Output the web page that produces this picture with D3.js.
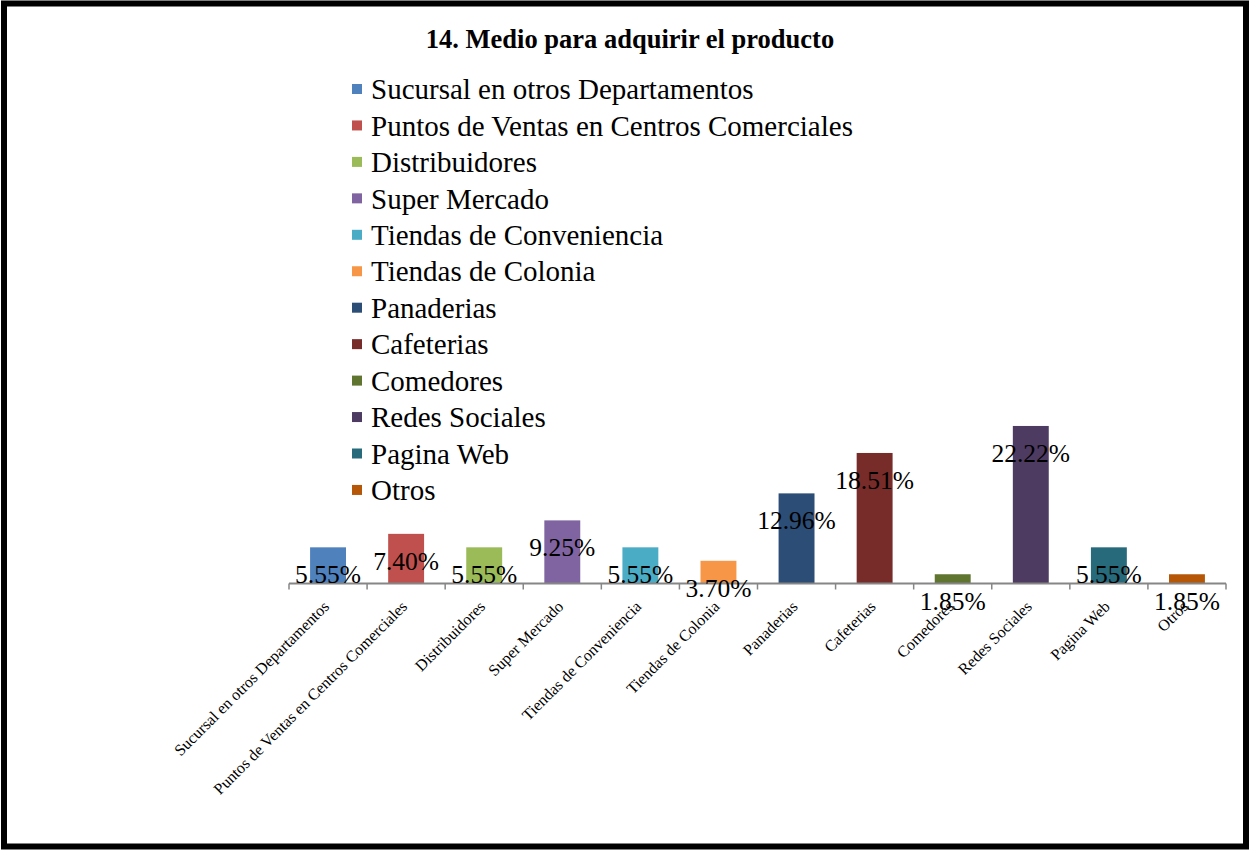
<!DOCTYPE html>
<html><head><meta charset="utf-8">
<script src="https://cdn.jsdelivr.net/npm/d3@7"></script>
<style>body{margin:0;background:#fff;} svg{display:block;font-family:"Liberation Serif","Times New Roman",serif;}</style>
</head><body>
<svg id="chart" width="1249" height="850"></svg>
<script>
const title = "14. Medio para adquirir el producto";
const categories = ["Sucursal en otros Departamentos","Puntos de Ventas en Centros Comerciales","Distribuidores","Super Mercado","Tiendas de Conveniencia","Tiendas de Colonia","Panaderias","Cafeterias","Comedores","Redes Sociales","Pagina Web","Otros"];
const values = [5.55,7.40,5.55,9.25,5.55,3.70,12.96,18.51,1.85,22.22,5.55,1.85];
const labels = ["5.55%","7.40%","5.55%","9.25%","5.55%","3.70%","12.96%","18.51%","1.85%","22.22%","5.55%","1.85%"];
const colors = ["#4F81BD","#C0504D","#9BBB59","#8064A2","#4BACC6","#F79646","#2C4D75","#772C2A","#5F7530","#4D3B62","#276A7C","#B65708"];

const svg = d3.select("#chart");
svg.append("rect").attr("x",4).attr("y",3.5).attr("width",1242).attr("height",843)
  .attr("fill","#fff").attr("stroke","#000").attr("stroke-width",6);

svg.append("text").attr("x",630).attr("y",48).attr("text-anchor","middle")
  .attr("font-weight","bold").attr("font-size",26.5).text(title);

const x = d3.scaleBand().domain(categories).range([289,1226]).paddingInner(0.54).paddingOuter(0.27);
const y = d3.scaleLinear().domain([0.58,25]).range([583.5,583.5-24.42*7.28]);
const base = y.range()[0];

// legend
const leg = svg.append("g");
categories.forEach((c,i)=>{
  const yy = 89 + i*36.45;
  leg.append("rect").attr("x",352).attr("y",yy-5).attr("width",10).attr("height",10).attr("fill",colors[i]);
  leg.append("text").attr("x",371).attr("y",yy).attr("dy","0.35em").attr("font-size",29).text(c);
});

// bars
svg.append("g").selectAll("rect").data(values).join("rect")
  .attr("x",(d,i)=>x(categories[i])).attr("width",x.bandwidth())
  .attr("y",d=>y(d)).attr("height",d=>base-y(d))
  .attr("fill",(d,i)=>colors[i]);

// axis
const xAxis = d3.axisBottom(x).tickSize(0).tickFormat("");
const ag = svg.append("g").attr("transform",`translate(0,${base})`).call(xAxis);
ag.select(".domain").attr("stroke","#868686").attr("stroke-width",2).attr("d","M289,0H1226");
const edges = d3.range(categories.length+1).map(i=>289 + i*(1226-289)/categories.length);
ag.selectAll(".tk").data(edges).join("line").attr("class","tk")
  .attr("x1",d=>d).attr("x2",d=>d).attr("y1",0).attr("y2",6).attr("stroke","#868686").attr("stroke-width",1.5);

// category labels
svg.append("g").selectAll("text").data(categories).join("text")
  .attr("transform",d=>`translate(${x(d)+x.bandwidth()/2+2},${base+24}) rotate(-45)`)
  .attr("text-anchor","end").attr("font-size",16).text(d=>d);

// data labels
svg.append("g").selectAll("text").data(values).join("text")
  .attr("x",(d,i)=>x(categories[i])+x.bandwidth()/2)
  .attr("y",d=>y(d)+27).attr("dy","0.35em")
  .attr("text-anchor","middle").attr("font-size",25.5).attr("fill","#000")
  .text((d,i)=>labels[i]);
</script>
</body></html>
